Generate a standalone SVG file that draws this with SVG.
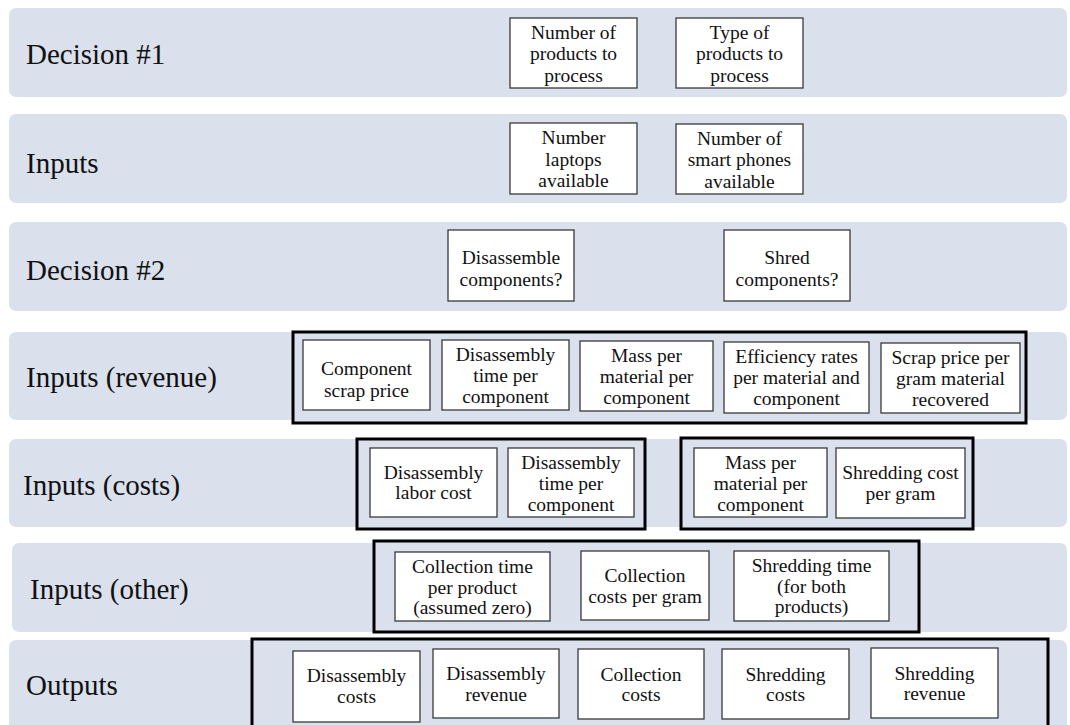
<svg xmlns="http://www.w3.org/2000/svg" width="1070" height="725" viewBox="0 0 1070 725">
  <style>
    .band { fill: #dae0ec; }
    .grp { fill: #dae0ec; stroke: #000; stroke-width: 3; }
    .box { fill: #fff; stroke: #3a3a3a; stroke-width: 1.3; }
    .lbl { font-family: "Liberation Serif", "Times New Roman", serif; font-size: 29px; fill: #111; }
    .txt { font-family: "Liberation Serif", "Times New Roman", serif; font-size: 19.5px; fill: #111; text-anchor: middle; }
  </style>
  <rect width="1070" height="725" fill="#fff"/>

  <!-- row bands with their labels -->
  <g id="rows">
    <g id="row-decision1"><rect class="band" x="9" y="8" width="1058" height="89" rx="7"/><text class="lbl" x="26" y="64">Decision #1</text></g>
    <g id="row-inputs"><rect class="band" x="9" y="114" width="1058" height="89" rx="7"/><text class="lbl" x="26" y="173">Inputs</text></g>
    <g id="row-decision2"><rect class="band" x="9" y="222" width="1058" height="89" rx="7"/><text class="lbl" x="26" y="280">Decision #2</text></g>
    <g id="row-revenue"><rect class="band" x="9" y="332" width="1058" height="88" rx="7"/><text class="lbl" x="26" y="387">Inputs (revenue)</text></g>
    <g id="row-costs"><rect class="band" x="9" y="439" width="1058" height="88" rx="7"/><text class="lbl" x="23" y="495">Inputs (costs)</text></g>
    <g id="row-other"><rect class="band" x="12" y="543" width="1055" height="89" rx="7"/><text class="lbl" x="30" y="599">Inputs (other)</text></g>
    <g id="row-outputs"><rect class="band" x="9" y="640" width="1058" height="100" rx="7"/><text class="lbl" x="26" y="695">Outputs</text></g>
  </g>

  <!-- grouping frames -->
  <g id="frames">
    <rect id="frame-revenue" class="grp" x="293" y="332" width="733" height="91"/>
    <rect id="frame-costs-disassembly" class="grp" x="357" y="439" width="288" height="90"/>
    <rect id="frame-costs-shredding" class="grp" x="681" y="438" width="292" height="91"/>
    <rect id="frame-other" class="grp" x="374" y="541" width="545" height="91"/>
    <rect id="frame-outputs" class="grp" x="252" y="639" width="796" height="100"/>
  </g>

  <g id="connectors"/>

  <!-- Decision #1 -->
  <g id="n-number-products"><rect class="box" x="510" y="18" width="127" height="70"/>
    <text class="txt"><tspan x="573.5" y="38.5">Number of</tspan><tspan x="573.5" y="60">products to</tspan><tspan x="573.5" y="81.5">process</tspan></text></g>
  <g id="n-type-products"><rect class="box" x="676" y="18" width="127" height="70"/>
    <text class="txt"><tspan x="739.5" y="38.5">Type of</tspan><tspan x="739.5" y="60">products to</tspan><tspan x="739.5" y="81.5">process</tspan></text></g>

  <!-- Inputs -->
  <g id="n-laptops"><rect class="box" x="510" y="123" width="127" height="71"/>
    <text class="txt"><tspan x="573.5" y="144">Number</tspan><tspan x="573.5" y="165.5">laptops</tspan><tspan x="573.5" y="187">available</tspan></text></g>
  <g id="n-phones"><rect class="box" x="676" y="124" width="127" height="70"/>
    <text class="txt"><tspan x="739.5" y="144.5">Number of</tspan><tspan x="739.5" y="166">smart phones</tspan><tspan x="739.5" y="187.5">available</tspan></text></g>

  <!-- Decision #2 -->
  <g id="n-disassemble"><rect class="box" x="448" y="230" width="126" height="71"/>
    <text class="txt"><tspan x="511" y="264">Disassemble</tspan><tspan x="511" y="285.5">components?</tspan></text></g>
  <g id="n-shred"><rect class="box" x="724" y="230" width="126" height="71"/>
    <text class="txt"><tspan x="787" y="264">Shred</tspan><tspan x="787" y="285.5">components?</tspan></text></g>

  <!-- Inputs (revenue) -->
  <g id="n-scrap-price"><rect class="box" x="303" y="340" width="127" height="70"/>
    <text class="txt"><tspan x="366.5" y="375">Component</tspan><tspan x="366.5" y="396.5">scrap price</tspan></text></g>
  <g id="n-rev-time"><rect class="box" x="442" y="340" width="127" height="70"/>
    <text class="txt"><tspan x="505.5" y="361">Disassembly</tspan><tspan x="505.5" y="382">time per</tspan><tspan x="505.5" y="403">component</tspan></text></g>
  <g id="n-rev-mass"><rect class="box" x="580" y="341" width="133" height="70"/>
    <text class="txt"><tspan x="646.5" y="362">Mass per</tspan><tspan x="646.5" y="383">material per</tspan><tspan x="646.5" y="404">component</tspan></text></g>
  <g id="n-efficiency"><rect class="box" x="724" y="342" width="145" height="71"/>
    <text class="txt"><tspan x="796.5" y="363">Efficiency rates</tspan><tspan x="796.5" y="384">per material and</tspan><tspan x="796.5" y="405">component</tspan></text></g>
  <g id="n-scrap-gram"><rect class="box" x="881" y="343" width="139" height="70"/>
    <text class="txt"><tspan x="950.5" y="364">Scrap price per</tspan><tspan x="950.5" y="385">gram material</tspan><tspan x="950.5" y="406">recovered</tspan></text></g>

  <!-- Inputs (costs) -->
  <g id="n-labor-cost"><rect class="box" x="370" y="448" width="127" height="69"/>
    <text class="txt"><tspan x="433.5" y="479">Disassembly</tspan><tspan x="433.5" y="499">labor cost</tspan></text></g>
  <g id="n-cost-time"><rect class="box" x="508" y="448" width="126" height="69"/>
    <text class="txt"><tspan x="571" y="468.5">Disassembly</tspan><tspan x="571" y="489.5">time per</tspan><tspan x="571" y="510.5">component</tspan></text></g>
  <g id="n-cost-mass"><rect class="box" x="694" y="448" width="133" height="69"/>
    <text class="txt"><tspan x="760.5" y="468.5">Mass per</tspan><tspan x="760.5" y="489.5">material per</tspan><tspan x="760.5" y="510.5">component</tspan></text></g>
  <g id="n-shred-cost"><rect class="box" x="836" y="448" width="129" height="70"/>
    <text class="txt"><tspan x="900.5" y="479">Shredding cost</tspan><tspan x="900.5" y="499.5">per gram</tspan></text></g>

  <!-- Inputs (other) -->
  <g id="n-collection-time"><rect class="box" x="395" y="552" width="155" height="69"/>
    <text class="txt"><tspan x="472.5" y="573">Collection time</tspan><tspan x="472.5" y="593.5">per product</tspan><tspan x="472.5" y="614">(assumed zero)</tspan></text></g>
  <g id="n-collection-cost"><rect class="box" x="581" y="551" width="128" height="69"/>
    <text class="txt"><tspan x="645" y="582">Collection</tspan><tspan x="645" y="602.5">costs per gram</tspan></text></g>
  <g id="n-shred-time"><rect class="box" x="734" y="551" width="155" height="70"/>
    <text class="txt"><tspan x="811.5" y="572">Shredding time</tspan><tspan x="811.5" y="592.5">(for both</tspan><tspan x="811.5" y="613">products)</tspan></text></g>

  <!-- Outputs -->
  <g id="n-out-dis-costs"><rect class="box" x="293" y="651" width="127" height="71"/>
    <text class="txt"><tspan x="356.5" y="682">Disassembly</tspan><tspan x="356.5" y="702.5">costs</tspan></text></g>
  <g id="n-out-dis-revenue"><rect class="box" x="433" y="649" width="126" height="69"/>
    <text class="txt"><tspan x="496" y="680">Disassembly</tspan><tspan x="496" y="700.5">revenue</tspan></text></g>
  <g id="n-out-col-costs"><rect class="box" x="578" y="649" width="126" height="70"/>
    <text class="txt"><tspan x="641" y="680.5">Collection</tspan><tspan x="641" y="701">costs</tspan></text></g>
  <g id="n-out-shred-costs"><rect class="box" x="722" y="649" width="127" height="70"/>
    <text class="txt"><tspan x="785.5" y="680.5">Shredding</tspan><tspan x="785.5" y="701">costs</tspan></text></g>
  <g id="n-out-shred-revenue"><rect class="box" x="871" y="648" width="127" height="70"/>
    <text class="txt"><tspan x="934.5" y="679.5">Shredding</tspan><tspan x="934.5" y="700">revenue</tspan></text></g>
</svg>
